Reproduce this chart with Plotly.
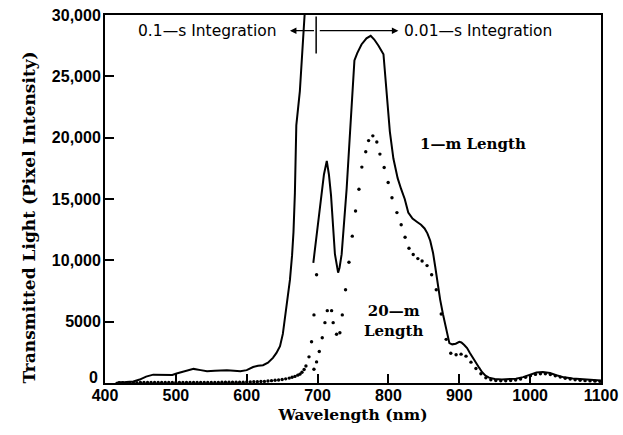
import plotly.graph_objects as go

# ---- 1-m length, solid line (two integration-time segments) ----
wl_1m_a = [415, 421, 430, 440, 449, 458, 468, 478, 487, 495, 501, 510, 518, 525, 535, 544,
           555, 565, 572, 582, 591, 600, 609, 616, 623, 630, 637, 642, 647, 651, 654, 658,
           661, 664, 666, 668, 670, 675, 682, 686]
tl_1m_a = [0, 60, 80, 120, 280, 520, 680, 660, 630, 650, 770, 900, 1050, 1150, 1050, 960,
           1000, 1060, 1040, 1000, 960, 1050, 1300, 1400, 1450, 1650, 2050, 2450, 3000, 4000, 5200, 6900,
           8400, 10400, 12300, 15500, 21000, 23800, 30500, 34000]

wl_1m_b = [694, 700, 705.6, 709, 713, 716, 719, 721, 724.5, 729, 731, 734, 741, 746, 752,
           756, 762, 769, 775, 780, 786, 793, 797, 802, 807, 813, 818, 823, 828, 834, 840,
           846, 851, 855, 859, 863, 866, 870, 873, 877, 880, 883, 886, 890, 895, 900, 903,
           907, 911, 915, 919, 923, 928, 932, 937, 942, 950, 960, 970, 980, 990, 1000, 1009,
           1018, 1028, 1037, 1048, 1060, 1075, 1093, 1100]
tl_1m_b = [9800, 12800, 15400, 17000, 18100, 17000, 15300, 13500, 10500, 9000, 9400, 10500, 15800, 20600, 26300,
           26900, 27600, 28100, 28300, 28000, 27500, 26800, 24000, 20500, 18300, 16700, 15800, 15000, 13900, 13400, 13150,
           12900, 12600, 12200, 11600, 10600, 9500, 7800, 6800, 5600, 4850, 3900, 3250, 3150, 3200, 3350, 3300,
           3100, 2850, 2450, 2050, 1750, 1250, 900, 600, 440, 330, 290, 300, 350, 480, 700, 860,
           900, 820, 630, 460, 360, 280, 220, 200]

# ---- 20-m length, dotted ----
wl_20m_a = [420, 425, 430, 435, 440, 445, 450, 455, 460, 465, 470, 475, 480, 485, 490, 495,
            500, 505, 510, 515, 520, 525, 530, 535, 540, 545, 550, 555, 560, 565, 570, 575,
            580, 585, 590, 595, 600, 605, 610, 615, 620, 625, 630, 635, 640, 645, 650, 655,
            660, 664, 668, 672, 675, 678, 681, 683.6, 687.9, 691.5, 694.9, 698.6]
tl_20m_a = [30, 30, 30, 30, 30, 30, 40, 40, 40, 40, 40, 40, 40, 40, 40, 40,
            50, 50, 50, 50, 50, 50, 50, 50, 50, 50, 50, 50, 50, 60, 60, 60,
            60, 60, 60, 70, 80, 90, 100, 110, 120, 130, 160, 190, 220, 250, 290, 340,
            400, 470, 540, 640, 720, 880, 1100, 1390, 2130, 3360, 5550, 8830]

wl_20m_b = [694.9, 698.6, 702.4, 706.6, 710.4, 713.7, 719.8, 722, 726.8, 731.5, 734.9, 739.5, 744.3, 749,
            753.6, 758.4, 762.5, 768, 772, 778, 783.6, 788, 794, 799.6, 805, 812, 818, 823.5, 829, 835,
            841.5, 847.5, 854.5, 861, 867.5, 874.5, 881.5, 888, 895.5, 902.5, 909.5, 916.5, 923.5, 930.5,
            937.5, 944.5, 951.5, 958.5, 965.5, 972.5, 979.5, 986.5, 993.5, 1000.5, 1007.5, 1014.5, 1021.5,
            1028.5, 1035.5, 1042.5, 1049.5, 1056.5, 1063.5, 1070.5, 1077.5, 1084.5, 1091.5, 1098.5]
tl_20m_b = [1120, 1720, 2570, 3690, 4920, 5900, 5900, 4920, 3970, 4100, 5550, 7600, 9840, 11970,
            14020, 15800, 17600, 18850, 19760, 20150, 19650, 18660, 17570, 16340, 15100, 13890, 12900, 11880, 10980, 10470,
            10140, 9950, 9570, 8830, 7600, 5630, 3560, 2430, 2300, 2350, 2190, 1700, 1180, 760,
            420, 260, 200, 180, 180, 200, 240, 330, 460, 600, 700, 760, 750,
            690, 590, 480, 390, 320, 260, 220, 190, 170, 150, 130]

y_tickvals = [0, 5000, 10000, 15000, 20000, 25000, 30000]
# the "0" label sits slightly raised in the original; it is drawn separately below
y_ticktext = ["", "5000", "10,000", "15,000", "20,000", "25,000", "30,000"]
y_zero_label = "0"
x_tickvals = [400, 500, 600, 700, 800, 900, 1000, 1100]

fig = go.Figure()
for wx, ty in [(wl_1m_a, tl_1m_a), (wl_1m_b, tl_1m_b)]:
    fig.add_trace(go.Scatter(x=wx, y=ty, mode="lines", line=dict(color="black", width=2),
                             showlegend=False, hoverinfo="skip"))
for wx, ty in [(wl_20m_a, tl_20m_a), (wl_20m_b, tl_20m_b)]:
    fig.add_trace(go.Scatter(x=wx, y=ty, mode="markers", cliponaxis=False,
                             marker=dict(color="black", size=3.4, symbol="circle"),
                             showlegend=False, hoverinfo="skip"))

serif = dict(family="DejaVu Serif", color="black", weight=700)
sans = dict(family="DejaVu Sans", color="black", size=15.5)
tickfont = dict(family="Liberation Sans", color="black", size=16, weight=700)

axis_common = dict(showline=True, linecolor="black", linewidth=2, mirror=True,
                   ticks="inside", ticklen=9, tickwidth=1.5, tickcolor="black",
                   showgrid=False, zeroline=False, tickfont=tickfont, automargin=False)

fig.update_xaxes(range=[400, 1100], tickvals=x_tickvals, ticklabelstandoff=-3, **axis_common,
                 title=dict(text="Wavelength (nm)", font=dict(size=15.5, **serif), standoff=6))
fig.update_yaxes(range=[0, 30000], tickvals=y_tickvals, ticktext=y_ticktext,
                 ticklabelstandoff=-1, **axis_common)

fig.add_annotation(xref="paper", yref="y", x=-0.011, y=y_tickvals[0] + 480, xanchor="right",
                   text=y_zero_label, showarrow=False, font=tickfont)

# y-axis title (placed slightly below centre, as in the original)
fig.add_annotation(xref="paper", yref="paper", x=-0.177, y=0.45, textangle=-90,
                   text="Transmitted Light (Pixel Intensity)", showarrow=False,
                   font=dict(size=17, **serif))

# integration-time markers
fig.add_shape(type="line", x0=698, x1=698, y0=26860, y1=29880, line=dict(color="black", width=1.5))
fig.add_annotation(x=661, y=28720, ax=697, ay=28720, axref="x", ayref="y", text="",
                   showarrow=True, arrowhead=2, arrowsize=1, arrowwidth=1.3, arrowcolor="black")
fig.add_annotation(x=814, y=28720, ax=701, ay=28720, axref="x", ayref="y", text="",
                   showarrow=True, arrowhead=2, arrowsize=1, arrowwidth=1.3, arrowcolor="black")
fig.add_annotation(x=645, y=28720, text="0.1\u2014s Integration", showarrow=False,
                   xanchor="right", font=sans)
fig.add_annotation(x=819, y=28720, text="0.01\u2014s Integration", showarrow=False,
                   xanchor="left", font=sans)
fig.add_annotation(x=919, y=19480, text="1\u2014m Length", showarrow=False,
                   font=dict(size=15, **serif))
fig.add_annotation(x=807, y=5070, text="20\u2014m<br>Length", showarrow=False,
                   font=dict(size=15, **serif))

fig.update_layout(width=623, height=435, margin=dict(l=105, r=22, t=15, b=52),
                  plot_bgcolor="white", paper_bgcolor="white")

# remove the browser's default 8 px page margin so the figure fills the window exactly
fig.write_html("out.html", config={"displayModeBar": False},
               post_script="document.body.style.margin='0';")
